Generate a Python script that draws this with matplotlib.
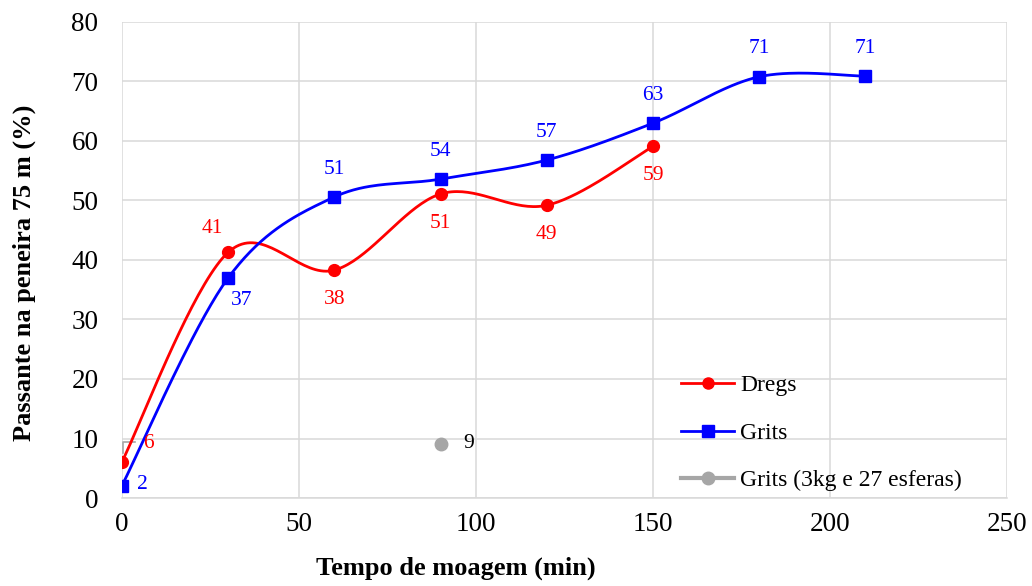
import numpy as np
import matplotlib.pyplot as plt

plt.rcParams['font.family'] = ['Liberation Serif', 'DejaVu Serif']

tempo_dregs = [0, 30, 60, 90, 120, 150]
dregs = [6.1, 41.3, 38.3, 51.1, 49.2, 59.1]
tempo_grits = [0, 30, 60, 90, 120, 150, 180, 210]
grits = [2.1, 37.0, 50.6, 53.6, 56.8, 63.0, 70.8, 70.9]
tempo_grits_3kg = [90]
grits_3kg = [9.1]


def smooth(x, y, n=40):
    # bezier smoothing through every point (catmull-rom style control points)
    x = np.asarray(x, float)
    y = np.asarray(y, float)
    pts = np.column_stack([x, y])
    out = [pts[0]]
    for i in range(len(pts) - 1):
        p0 = pts[i - 1] if i > 0 else pts[i]
        p1 = pts[i]
        p2 = pts[i + 1]
        p3 = pts[i + 2] if i + 2 < len(pts) else pts[i + 1]
        c1 = p1 + (p2 - p0) / 6.0
        c2 = p2 - (p3 - p1) / 6.0
        t = np.linspace(0, 1, n)[1:, None]
        seg = ((1 - t) ** 3 * p1 + 3 * (1 - t) ** 2 * t * c1
               + 3 * (1 - t) * t ** 2 * c2 + t ** 3 * p2)
        out.extend(seg)
    out = np.array(out)
    return out[:, 0], out[:, 1]


fig = plt.figure(figsize=(10.32, 5.86), dpi=100)
ax = fig.add_axes([0.11822, 0.15017, 0.85756, 0.81229])

red = '#ff0000'
blue = '#0000ff'
grey = '#a6a6a6'

sx, sy = smooth(tempo_dregs, dregs)
ax.plot(sx, sy, color=red, lw=2, zorder=3)
ax.plot(tempo_dregs, dregs, 'o', color=red, ms=8.5, zorder=4)
ax.plot([], [], '-o', color=red, lw=2, ms=8, label='Dregs')

sx, sy = smooth(tempo_grits, grits)
ax.plot(sx, sy, color=blue, lw=2, zorder=3)
ax.plot(tempo_grits, grits, 's', color=blue, ms=9, zorder=4)
ax.plot([], [], '-s', color=blue, lw=2, ms=8.5, label='Grits')

ax.plot(tempo_grits_3kg, grits_3kg, 'o', color=grey, ms=9, zorder=4)
ax.plot([], [], '-o', color=grey, lw=3, ms=9, label='Grits (3kg e 27 esferas)')

# data labels: (dx, dy) offsets in points
dregs_off = [(19, 13), (-11.5, 17), (0, -21), (0, -21), (0, -21), (0, -21)]
grits_off = [(15, 1), (9.5, -16), (0, 20), (0, 20), (0, 20), (0, 20), (0, 20), (0, 20)]
for x, y, (dx, dy) in zip(tempo_dregs, dregs, dregs_off):
    ax.annotate(f'{y:.0f}', (x, y), xytext=(dx, dy), textcoords='offset points',
                ha='center', va='center', color=red, fontsize=15.5, zorder=5)
for x, y, (dx, dy) in zip(tempo_grits, grits, grits_off):
    ax.annotate(f'{y:.0f}', (x, y), xytext=(dx, dy), textcoords='offset points',
                ha='center', va='center', color=blue, fontsize=15.5, zorder=5)
for x, y in zip(tempo_grits_3kg, grits_3kg):
    ax.annotate(f'{y:.0f}', (x, y), xytext=(20, 0), textcoords='offset points',
                ha='center', va='center', color='black', fontsize=15.5, zorder=5)

# leader line for the first dregs label
ax.plot([0.3, 0.3, 3.7], [7.6, 9.4, 9.4], color=grey, lw=1.2, zorder=2,
        clip_on=False)

ax.set_xlim(0, 250)
ax.set_ylim(0, 80)
ax.set_xticks(np.arange(0, 251, 50))
ax.set_yticks(np.arange(0, 81, 10))
ax.grid(True, color='#d9d9d9', lw=1.1)
ax.set_axisbelow(True)
for s in ['top', 'right', 'left']:
    ax.spines[s].set_visible(False)
ax.spines['bottom'].set_color('#d9d9d9')
ax.spines['bottom'].set_linewidth(1.1)
ax.tick_params(axis='both', length=0, labelsize=19.5)
ax.tick_params(axis='y', pad=17)
ax.tick_params(axis='x', pad=10)

ax.set_xlabel('Tempo de moagem (min)', fontsize=19, fontweight='bold')
ax.set_ylabel('Passante na peneira 75 m (%)', fontsize=19, fontweight='bold')
ax.xaxis.set_label_coords(0.377, -0.124)
ax.yaxis.set_label_coords(-0.097, 0.474)

ax.legend(loc='center left', bbox_to_anchor=(681 / 1032, 1 - 433 / 586),
          bbox_transform=fig.transFigure, frameon=False, fontsize=17,
          handlelength=2.25, labelspacing=1.1, handletextpad=0.25,
          borderpad=0, borderaxespad=0)

fig.savefig('out.png', dpi=100)
